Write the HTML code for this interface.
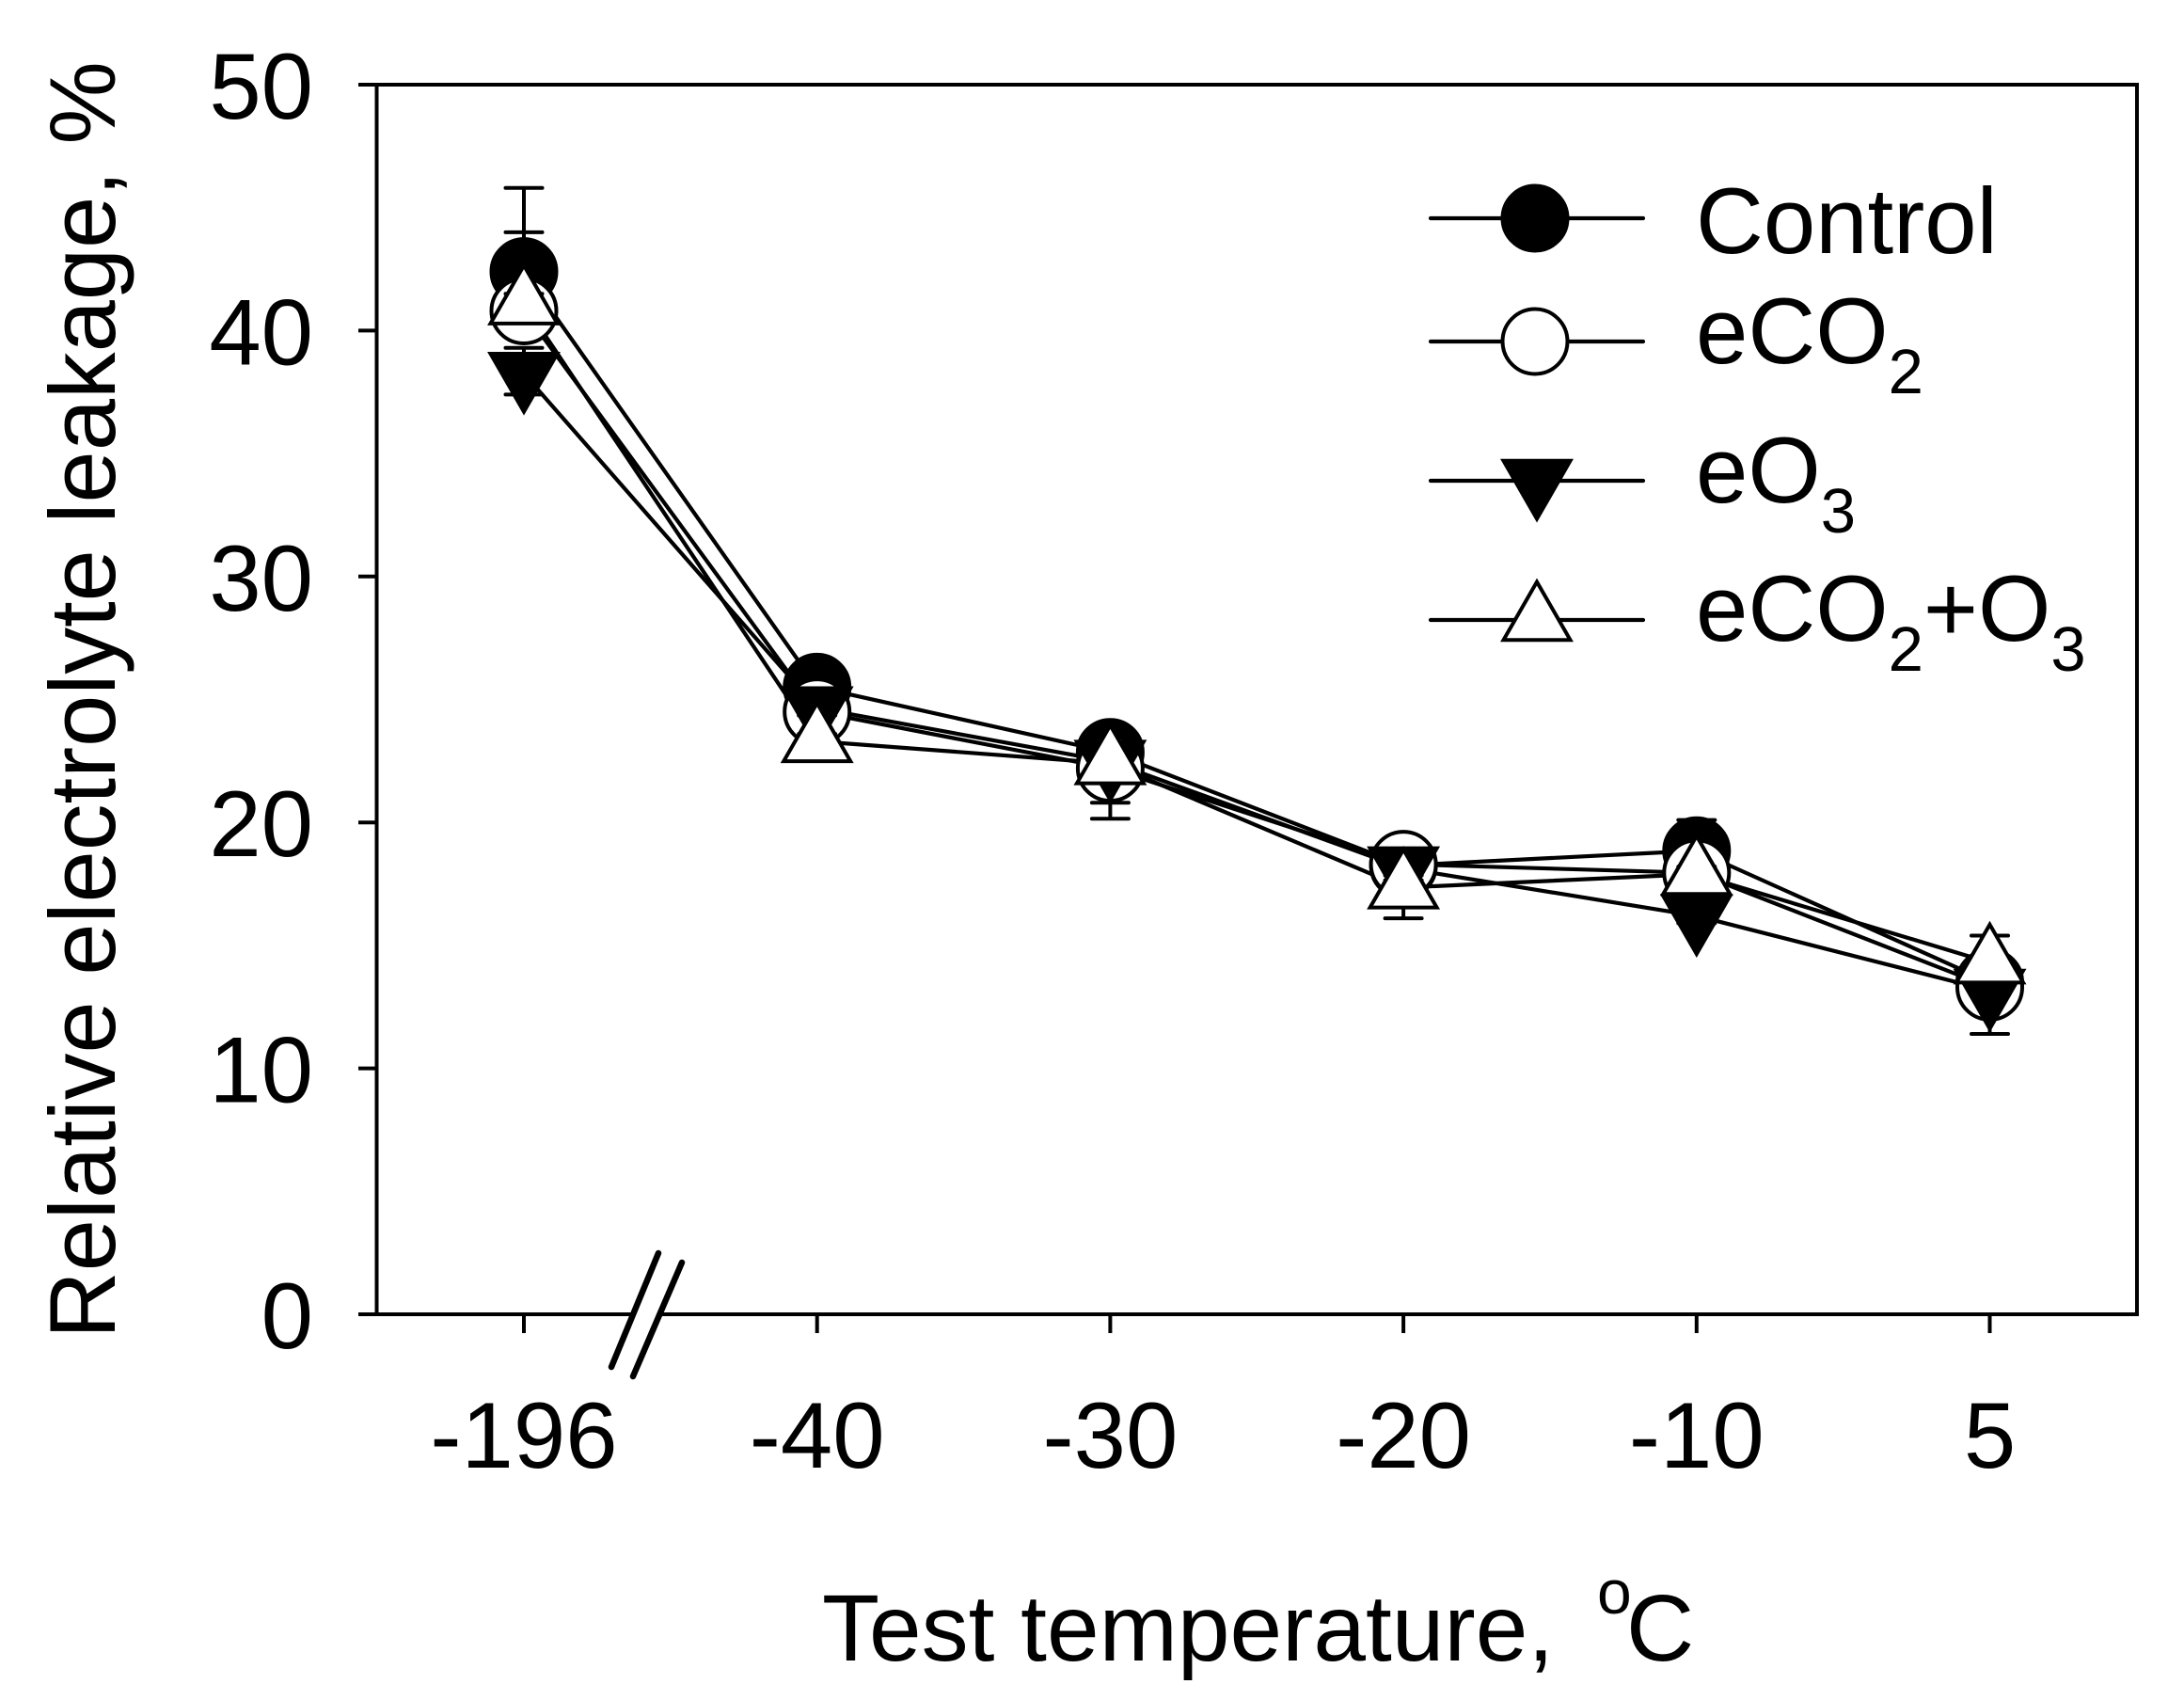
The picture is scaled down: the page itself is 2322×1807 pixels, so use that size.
<!DOCTYPE html>
<html lang="en">
<head>
<meta charset="utf-8">
<title>Relative electrolyte leakage vs test temperature</title>
<style>
  html, body { margin: 0; padding: 0; background: #fff; }
  svg { display: block; }
  text { font-family: "Liberation Sans", Arial, sans-serif; fill: #000; }
</style>
</head>
<body>
<svg id="chart" xmlns="http://www.w3.org/2000/svg" width="2322" height="1807" viewBox="0 0 2322 1807">
  <rect x="0" y="0" width="2322" height="1807" fill="#fff"/>
  <text font-size="99.3" transform="translate(122,1423) rotate(-90)">Relative electrolyte leakage, %</text>
  <text font-size="100" x="874" y="1765">Test temperature,<tspan x="1698" y="1715" font-size="66">o</tspan><tspan x="1729" y="1765">C</tspan></text>
  <g id="axes"></g>
  <g id="lines"></g>
  <g id="marks"></g>
  <g id="legend">
    <text font-size="99.5" x="1803" y="269">Control</text>
    <text font-size="99.5" x="1803" y="386">eCO<tspan font-size="67" dy="32">2</tspan></text>
    <text font-size="99.5" x="1803" y="534">eO<tspan font-size="67" dy="32">3</tspan></text>
    <text font-size="99.5" x="1803" y="681">eCO<tspan font-size="67" dy="32">2</tspan><tspan dy="-32">+O</tspan><tspan font-size="67" dy="32">3</tspan></text>
  </g>
</svg>
<script>
// ---- chart data ----
const categories = ['-196', '-40', '-30', '-20', '-10', '5'];
const yTickValues = [0, 10, 20, 30, 40, 50];
const seriesNames = ['control', 'eco2', 'eo3', 'eco2-o3'];
const seriesShapes = ['filled-circle', 'open-circle', 'filled-down', 'open-up'];
const controlValues = [42.4, 25.5, 22.85, 18.25, 18.85, 13.5];
const eco2Values = [40.8, 24.5, 22.2, 18.3, 17.95, 13.3];
const eo3Values = [38.25, 24.65, 22.47, 18.14, 16.2, 13.16];
const eco2o3Values = [41.1, 23.3, 22.4, 17.35, 17.9, 14.3];
const controlUpper = [3.4, 0.3, 0.4, 0.3, 1.25, 0.4];
const controlLower = [0.6, 0.3, 0.4, 0.3, 0.4, 0.4];
const eco2Upper = [3.2, 0.3, 0.3, 0.3, 0.3, 0.3];
const eco2Lower = [0.5, 0.3, 2.05, 0.3, 0.3, 0.3];
const eo3Upper = [1.05, 0.3, 0.3, 0.3, 0.3, 0.3];
const eo3Lower = [0.85, 0.3, 1.67, 0.3, 0.3, 1.76];
const eco2o3Upper = [0.4, 0.3, 0.3, 0.3, 0.3, 1.1];
const eco2o3Lower = [0.4, 0.3, 0.3, 1.25, 0.3, 0.4];

const allValues = [controlValues, eco2Values, eo3Values, eco2o3Values];
const allUpper = [controlUpper, eco2Upper, eo3Upper, eco2o3Upper];
const allLower = [controlLower, eco2Lower, eo3Lower, eco2o3Lower];

// ---- axis functions ----
function xPos(i) { return 557 + i * 311.7; }
function yPos(v) { return 1397 - v * 26.14; }

const NS = 'http://www.w3.org/2000/svg';
const axesG = document.getElementById('axes');
const linesG = document.getElementById('lines');
const marksG = document.getElementById('marks');
const legendG = document.getElementById('legend');

function seg(parent, x1, y1, x2, y2, w, cap) {
  const el = document.createElementNS(NS, 'line');
  el.setAttribute('x1', x1);
  el.setAttribute('y1', y1);
  el.setAttribute('x2', x2);
  el.setAttribute('y2', y2);
  el.setAttribute('stroke', '#000');
  el.setAttribute('stroke-width', w);
  el.setAttribute('stroke-linecap', cap || 'butt');
  parent.appendChild(el);
  return el;
}

function marker(parent, shape, cx, cy) {
  const r = 34.5, up = 40.5, down = 21.2, hw = 35.5;
  let el;
  if (shape === 'filled-circle' || shape === 'open-circle') {
    el = document.createElementNS(NS, 'circle');
    el.setAttribute('cx', cx);
    el.setAttribute('cy', cy);
    el.setAttribute('r', r);
  } else {
    el = document.createElementNS(NS, 'polygon');
    const pts = shape === 'open-up'
      ? [[cx, cy - up], [cx + hw, cy + down], [cx - hw, cy + down]]
      : [[cx, cy + up], [cx + hw, cy - down], [cx - hw, cy - down]];
    el.setAttribute('points', pts.map(function (p) { return p.join(','); }).join(' '));
    el.setAttribute('stroke-linejoin', 'miter');
    el.setAttribute('stroke-miterlimit', '10');
  }
  el.setAttribute('fill', shape.indexOf('filled') === 0 ? '#000' : '#fff');
  el.setAttribute('stroke', '#000');
  el.setAttribute('stroke-width', '4');
  parent.appendChild(el);
  return el;
}

// ---- axes ----
const frameTop = seg(axesG, 381, yPos(50), 2272, yPos(50), 4, 'butt');


const frameRight = seg(axesG, 2272, yPos(50) - 2, 2272, yPos(0) + 2, 4, 'butt');


const yAxisLine = seg(axesG, 400.5, yPos(50), 400.5, yPos(0), 4, 'butt');


const xAxisLeft = seg(axesG, 381, yPos(0), 673, yPos(0), 4, 'butt');


const xAxisRight = seg(axesG, 701, yPos(0), 2272, yPos(0), 4, 'butt');


const breakA = seg(axesG, 650, 1453, 700, 1332, 6.5, 'round');


const breakB = seg(axesG, 673, 1463, 725, 1342, 6.5, 'round');



yTickValues.forEach(function (v) {
  const y = yPos(v);
  if (v > 0 && v < 50) {
    const tick = seg(axesG, 381, y, 400, y, 4, 'butt');
    
    
  }
  const label = document.createElementNS(NS, 'text');
  label.setAttribute('x', 333);
  label.setAttribute('y', y + 36);
  label.setAttribute('font-size', 99.5);
  label.setAttribute('text-anchor', 'end');
  label.textContent = String(v);
  
  
  axesG.appendChild(label);
});

categories.forEach(function (c, i) {
  const x = xPos(i);
  const tick = seg(axesG, x, yPos(0), x, 1417, 4, 'butt');
  
  
  const label = document.createElementNS(NS, 'text');
  label.setAttribute('x', x);
  label.setAttribute('y', 1560);
  label.setAttribute('font-size', 99.5);
  label.setAttribute('text-anchor', 'middle');
  label.textContent = c;
  
  
  axesG.appendChild(label);
});

// ---- series: all lines beneath all markers ----
allValues.forEach(function (vals, s) {
  const line = document.createElementNS(NS, 'polyline');
  line.setAttribute('points', vals.map(function (v, i) { return xPos(i) + ',' + yPos(v); }).join(' '));
  line.setAttribute('fill', 'none');
  line.setAttribute('stroke', '#000');
  line.setAttribute('stroke-width', '4.2');
  line.setAttribute('stroke-linejoin', 'round');
  
  
  linesG.appendChild(line);
});

allValues.forEach(function (vals, s) {
  const group = document.createElementNS(NS, 'g');
  
  
  marksG.appendChild(group);
  vals.forEach(function (v, i) {
    const x = xPos(i);
    const hiY = yPos(v + allUpper[s][i]);
    const loY = yPos(v - allLower[s][i]);
    const stem = seg(group, x, hiY, x, loY, 4, 'butt');
    
    
    const capHi = seg(group, x - 19.5, hiY, x + 19.5, hiY, 4, 'round');
    
    
    const capLo = seg(group, x - 19.5, loY, x + 19.5, loY, 4, 'round');
    
    
    const pt = marker(group, seriesShapes[s], x, yPos(v));
    
    
  });
});

// ---- legend symbols ----
const legendRowOrder = [232, 363, 511, 659];
seriesShapes.forEach(function (shape, s) {
  const y = legendRowOrder[s];
  const key = seg(legendG, 1521, y, 1747, y, 4.2, 'round');
  
  
  const sym = marker(legendG, shape, shape.indexOf('circle') > 0 ? 1632 : 1634, y);
  
  
});
</script>
</body>
</html>
